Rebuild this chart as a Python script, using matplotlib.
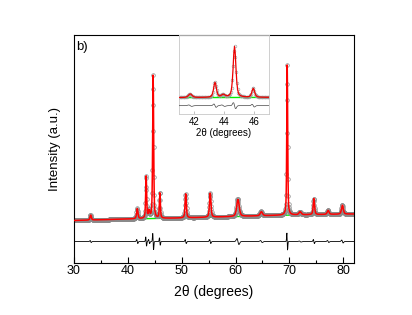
import numpy as np
import matplotlib
matplotlib.use('Agg')
import matplotlib.pyplot as plt
from matplotlib.ticker import MultipleLocator

plt.rcParams['font.family'] = ['Liberation Sans', 'DejaVu Sans']

# peaks: position (2theta), height above background, FWHM
peak_pos = [33.1, 41.75, 43.4, 43.95, 44.7, 45.95, 50.75, 55.3, 60.45, 64.8, 69.6, 72.0, 74.55, 77.2, 79.85]
peak_height = [5, 10, 42, 7, 143, 25, 24, 24, 17, 4, 150, 3, 16, 4, 9]
peak_fwhm = [0.3, 0.3, 0.22, 0.3, 0.22, 0.22, 0.28, 0.32, 0.55, 0.5, 0.2, 0.5, 0.3, 0.4, 0.4]
# size of the obs-calc misfit at each peak
misfit = [1, 2, 5, 2, 9, 4, 2, 2, 3, 1, 9, 0.5, 2, 1, 1.5]

# background nodes
bg_x = [30, 40, 50, 60, 70, 82]
bg_y = [42.5, 44, 45, 46.5, 48, 49]

diff_offset = 21.5

tt = np.arange(30, 82.001, 0.05)
background = np.interp(tt, bg_x, bg_y)

calc = background.copy()
resid = np.zeros_like(tt)
for p, h, w, a in zip(peak_pos, peak_height, peak_fwhm, misfit):
    d = tt - p
    g = np.exp(-4 * np.log(2) * d**2 / w**2)
    lor = 1 / (1 + 4 * d**2 / w**2)
    calc += h * (0.5 * g + 0.5 * lor)
    s = w / 3
    resid += a * (-d / s) * np.exp(0.5 - d**2 / (2 * s**2))

obs = calc + resid
diff = obs - calc + diff_offset

fig = plt.figure(figsize=(4.12, 3.15), dpi=100)
ax = fig.add_axes([0.1796, 0.165, 0.6796, 0.724])

ax.plot(tt, background, color='#00ee00', lw=1.0, zorder=1)
ax.plot(tt, obs, ls='none', marker='o', ms=2.6, mfc='none', mec='#8a8a8a', mew=0.5, zorder=2)
ax.plot(tt, calc, color='#ff0000', lw=1.1, zorder=3)
ax.plot(tt, diff, color='black', lw=0.6, zorder=3)

ax.set_xlim(30, 82)
ax.set_ylim(0, 228)
ax.set_yticks([])
ax.xaxis.set_major_locator(MultipleLocator(10))
ax.xaxis.set_minor_locator(MultipleLocator(5))
ax.tick_params(axis='x', which='major', direction='in', length=4, width=0.8, labelsize=9, pad=1.5)
ax.tick_params(axis='x', which='minor', direction='in', length=2, width=0.8)
for sp in ax.spines.values():
    sp.set_linewidth(0.8)
ax.set_xlabel('2θ (degrees)', fontsize=10, labelpad=6)
ax.set_ylabel('Intensity (a.u.)', fontsize=9.5, labelpad=9.5)
ax.text(0.008, 0.975, 'b)', transform=ax.transAxes, ha='left', va='top', fontsize=9.5)

# inset zoom on the main reflection
ins = fig.add_axes([0.4345, 0.638, 0.2185, 0.251])
ins.plot(tt, background, color='#00ee00', lw=1.0, zorder=1)
ins.plot(tt, obs, ls='none', marker='o', ms=2.0, mfc='none', mec='#9a9a9a', mew=0.4, zorder=2)
ins.plot(tt, calc, color='#ee0000', lw=0.9, zorder=3)
ins.plot(tt, diff, color='#444444', lw=0.5, zorder=3)
ins.set_xlim(41, 47)
ins.set_ylim(-2, 220)
ins.set_yticks([])
ins.set_xticks([42, 44, 46])
ins.tick_params(axis='x', direction='in', length=2, width=0.5, color='#aaaaaa', labelsize=7, pad=2)
for sp in ins.spines.values():
    sp.set_color('#c8c8c8')
    sp.set_linewidth(0.6)
ins.set_xlabel('2θ (degrees)', fontsize=7, labelpad=1)
ins.patch.set_alpha(0)

fig.savefig('out.png', dpi=100)
